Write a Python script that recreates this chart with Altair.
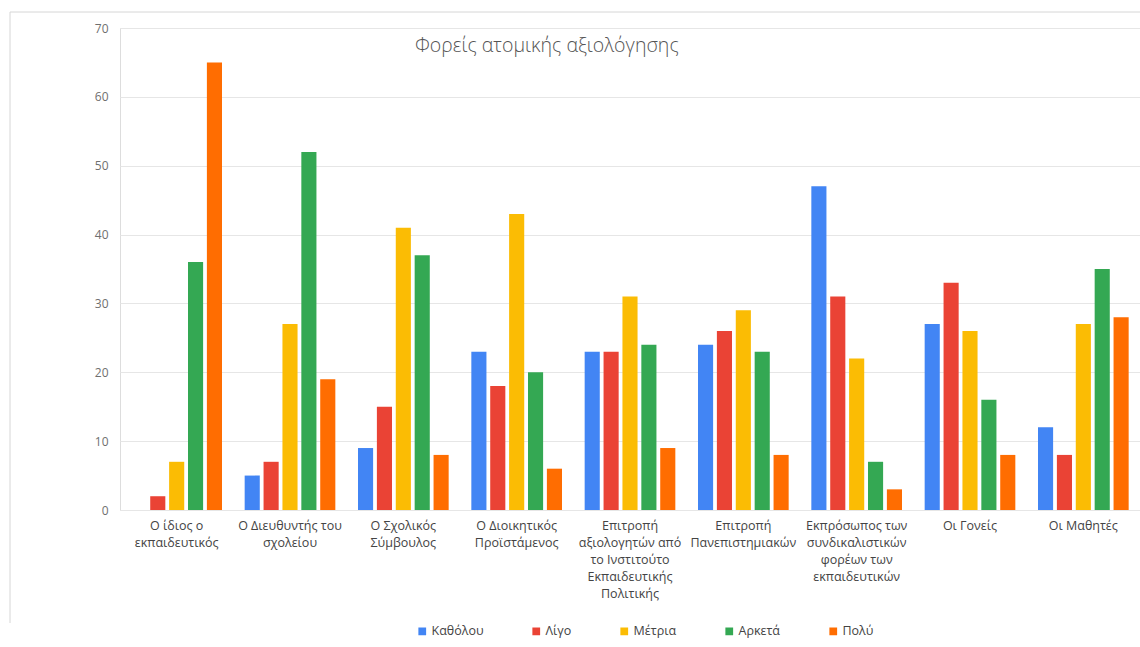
import altair as alt
import pandas as pd

categories = [
    "Ο ίδιος ο|εκπαιδευτικός",
    "Ο Διευθυντής του|σχολείου",
    "Ο Σχολικός|Σύμβουλος",
    "Ο Διοικητικός|Προϊστάμενος",
    "Επιτροπή|αξιολογητών από|το Ινστιτούτο|Εκπαιδευτικής|Πολιτικής",
    "Επιτροπή|Πανεπιστημιακών",
    "Εκπρόσωπος των|συνδικαλιστικών|φορέων των|εκπαιδευτικών",
    "Οι Γονείς",
    "Οι Μαθητές",
]
series = ["Καθόλου", "Λίγο", "Μέτρια", "Αρκετά", "Πολύ"]
katholou = [0, 5, 9, 23, 23, 24, 47, 27, 12]
ligo = [2, 7, 15, 18, 23, 26, 31, 33, 8]
metria = [7, 27, 41, 43, 31, 29, 22, 26, 27]
arketa = [36, 52, 37, 20, 24, 23, 7, 16, 35]
poly = [65, 19, 8, 6, 9, 8, 3, 8, 28]
colors = ["#4285F4", "#EA4335", "#FBBC04", "#34A853", "#FF6D01"]
title_text = "Φορείς ατομικής αξιολόγησης"

rows = []
for s, vals in zip(series, [katholou, ligo, metria, arketa, poly]):
    for c, v in zip(categories, vals):
        rows.append({"cat": c, "series": s, "value": v})
df = pd.DataFrame(rows)

FONT = "Open Sans"

bars = alt.Chart(df).mark_bar().encode(
    x=alt.X("cat:N", sort=categories, title=None,
            scale=alt.Scale(paddingInner=0.2, paddingOuter=0.1),
            axis=alt.Axis(labelAngle=0, labelExpr="split(datum.label, '|')",
                          labelFont=FONT, labelFontSize=12.5, labelColor="#444444",
                          labelLineHeight=17, labelPadding=9, ticks=False,
                          domain=False, grid=False, labelLimit=200)),
    xOffset=alt.XOffset("series:N", sort=series,
                        scale=alt.Scale(paddingInner=0.2, paddingOuter=0)),
    y=alt.Y("value:Q", title=None,
            scale=alt.Scale(domain=[0, 70], nice=False),
            axis=alt.Axis(values=[0, 10, 20, 30, 40, 50, 60, 70], ticks=False,
                          domain=False, gridColor="#e6e6e6", labelFont=FONT,
                          labelFontSize=12, labelColor="#6f6f6f", labelPadding=12)),
    color=alt.Color("series:N", sort=series,
                    scale=alt.Scale(domain=series, range=colors),
                    legend=alt.Legend(title=None, orient="none", direction="horizontal",
                                      legendX=296, legendY=597, symbolType="square",
                                      symbolSize=60, symbolStrokeWidth=0,
                                      labelFont=FONT, labelFontSize=12.5,
                                      labelColor="#444444", columnPadding=46,
                                      labelOffset=3)),
)

title = alt.Chart(pd.DataFrame({"t": [title_text]})).mark_text(
    align="left", baseline="alphabetic", font=FONT, fontSize=19.5, fontWeight=300,
    color="#555555"
).encode(x=alt.value(295), y=alt.value(24), text="t:N")

frame_top = alt.Chart(pd.DataFrame({"a": [0]})).mark_rule(
    color="#d6d6d6", strokeWidth=1
).encode(x=alt.value(-110), x2=alt.value(1030), y=alt.value(-16))

frame_left = alt.Chart(pd.DataFrame({"a": [0]})).mark_rule(
    color="#d6d6d6", strokeWidth=1
).encode(x=alt.value(-110), y=alt.value(-16), y2=alt.value(595))

chart = alt.layer(frame_top, frame_left, bars, title).properties(
    width=1020, height=482,
    autosize=alt.AutoSizeParams(type="none"),
    padding={"left": 120, "top": 28, "right": 0, "bottom": 137},
).configure_view(stroke=None).configure(background="white")

chart.save("out.html", embed_options={"renderer": "svg", "actions": False})
